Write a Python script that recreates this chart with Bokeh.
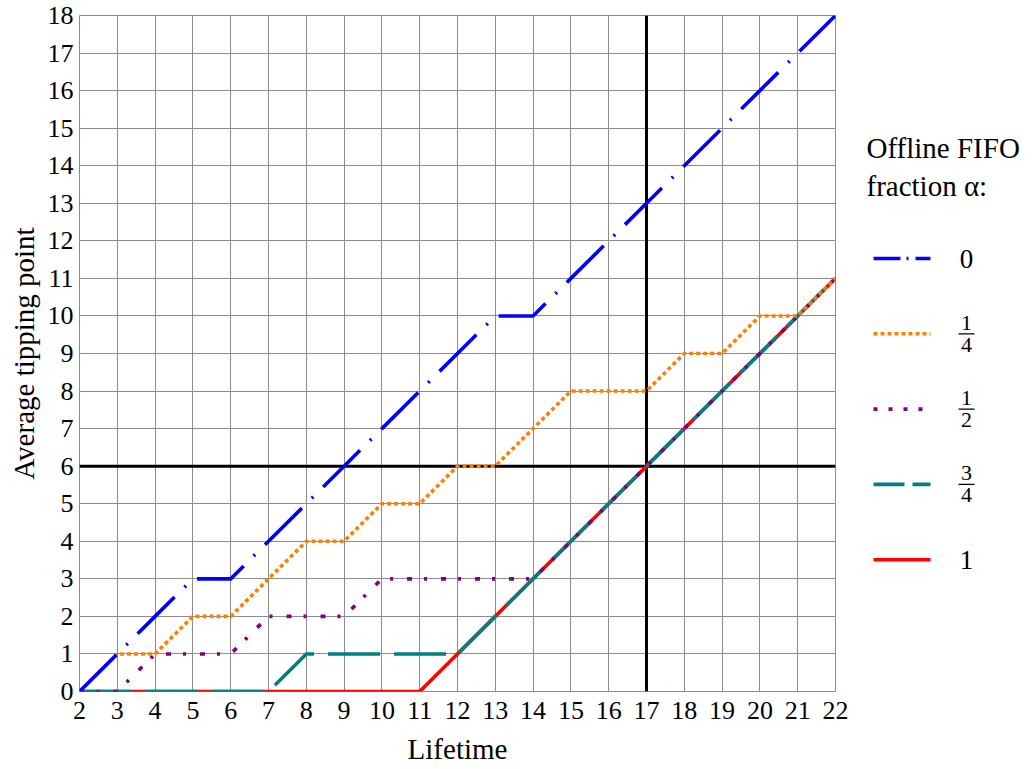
from bokeh.plotting import figure
from bokeh.layouts import row
from bokeh.models import FixedTicker, Span, Range1d
from bokeh.core.properties import value
from bokeh.embed import file_html
from bokeh.resources import INLINE

# ---------------- data ----------------
lifetime = list(range(2, 23))
alpha_0 = [0, 1, 2, 3, 3, 4, 5, 6, 7, 8, 9, 10, 10, 11, 12, 13, 14, 15, 16, 17, 18]
alpha_quarter = [0, 1, 1, 2, 2, 3, 4, 4, 5, 5, 6, 6, 7, 8, 8, 8, 9, 9, 10, 10, 11]
alpha_half = [0, 0, 1, 1, 1, 2, 2, 2, 3, 3, 3, 3, 3, 4, 5, 6, 7, 8, 9, 10, 11]
alpha_three_quarters = [0, 0, 0, 0, 0, 0, 1, 1, 1, 1, 1, 2, 3, 4, 5, 6, 7, 8, 9, 10, 11]
alpha_1 = [0, 0, 0, 0, 0, 0, 0, 0, 0, 0, 1, 2, 3, 4, 5, 6, 7, 8, 9, 10, 11]

alpha_labels = ["0", "1/4", "1/2", "3/4", "1"]
x_ticks = list(range(2, 23))
y_ticks = list(range(0, 19))
ref_x = 17
ref_y = 6

# ---------------- styles ----------------
FONT = "Liberation Serif"
colors = ["#0000ff", "#ff8000", "#800080", "#008080", "#ff0000"]
plot_dash = ["52 14 2 14", "4 3", "5 12 3 14", "52 14", "solid"]
legend_dash = ["27 6 2 7", "4 3", "4 11", "31 8", "solid"]
series = [alpha_0, alpha_quarter, alpha_half, alpha_three_quarters, alpha_1]
LW = 3.6

MAIN_W = 856
TOTAL_H = 769
TOP = 15
BOTTOM = 78

p = figure(width=MAIN_W, height=TOTAL_H, output_backend="svg", toolbar_location=None,
           x_range=Range1d(2, 22), y_range=Range1d(0, 18),
           min_border_left=79, min_border_right=21, min_border_top=TOP, min_border_bottom=BOTTOM)
p.xaxis.ticker = FixedTicker(ticks=x_ticks)
p.yaxis.ticker = FixedTicker(ticks=y_ticks)
p.xgrid.ticker = FixedTicker(ticks=x_ticks)
p.ygrid.ticker = FixedTicker(ticks=y_ticks)
p.grid.grid_line_color = "#8c8c8c"
p.grid.grid_line_width = 1
p.outline_line_color = "#8c8c8c"
p.outline_line_width = 1
p.background_fill_color = "white"
p.border_fill_color = "white"

for ax in (p.xaxis, p.yaxis):
    ax.axis_line_color = None
    ax.major_tick_line_color = None
    ax.minor_tick_line_color = None
    ax.major_tick_out = 0
    ax.major_tick_in = 0
    ax.major_label_text_font = FONT
    ax.major_label_text_font_size = "26px"
    ax.major_label_text_color = "black"
    ax.axis_label_text_font = FONT
    ax.axis_label_text_font_size = "29px"
    ax.axis_label_text_font_style = "normal"
    ax.axis_label_text_color = "black"
p.xaxis.axis_label = "Lifetime"
p.yaxis.axis_label = "Average tipping point"
p.xaxis.major_label_standoff = 10
p.yaxis.major_label_standoff = 6
p.xaxis.axis_label_standoff = 11
p.yaxis.axis_label_standoff = 5

p.add_layout(Span(location=ref_x, dimension="height", line_color="black", line_width=3, level="underlay"))
p.add_layout(Span(location=ref_y, dimension="width", line_color="black", line_width=3, level="underlay"))

# draw in reverse order (alpha=1 at the bottom, alpha=0 on top)
for ys, c, d in reversed(list(zip(series, colors, plot_dash))):
    p.line(lifetime, ys, line_color=c, line_width=LW, line_dash=d,
           line_cap="butt", line_join="miter")

# ---------------- legend panel (coordinates = page pixels) ----------------
LX0 = MAIN_W
LW_PANEL = 1032 - MAIN_W
leg = figure(width=LW_PANEL, height=TOTAL_H, output_backend="svg", toolbar_location=None,
             x_range=Range1d(LX0, LX0 + LW_PANEL), y_range=Range1d(TOTAL_H - BOTTOM, TOP),
             min_border_left=0, min_border_right=0, min_border_top=TOP, min_border_bottom=BOTTOM)
leg.axis.visible = False
leg.grid.visible = False
leg.outline_line_color = None

leg.text(x=[866, 866], y=[147, 185], text=["Offline FIFO", "fraction α:"],
         text_font=value(FONT), text_font_size="29px", text_baseline="middle",
         text_align="left", text_color="black")

entry_y0 = 258
entry_step = 75.3
for i, (lab, c, d) in enumerate(zip(alpha_labels, colors, legend_dash)):
    yy = entry_y0 + i * entry_step
    leg.line([873, 930], [yy, yy], line_color=c, line_width=LW, line_dash=d, line_cap="butt")
    if "/" in lab:
        num, den = lab.split("/")
        leg.text(x=[966], y=[yy - 11], text=[num], text_font=value(FONT), text_font_size="22px",
                 text_baseline="middle", text_align="center", text_color="black")
        leg.text(x=[966], y=[yy + 11], text=[den], text_font=value(FONT), text_font_size="22px",
                 text_baseline="middle", text_align="center", text_color="black")
        leg.line([958, 974], [yy, yy], line_color="black", line_width=1.2)
    else:
        leg.text(x=[966], y=[yy], text=[lab], text_font=value(FONT), text_font_size="27px",
                 text_baseline="middle", text_align="center", text_color="black")

layout = row(p, leg)
open("out.html", "w").write(file_html(layout, INLINE))
